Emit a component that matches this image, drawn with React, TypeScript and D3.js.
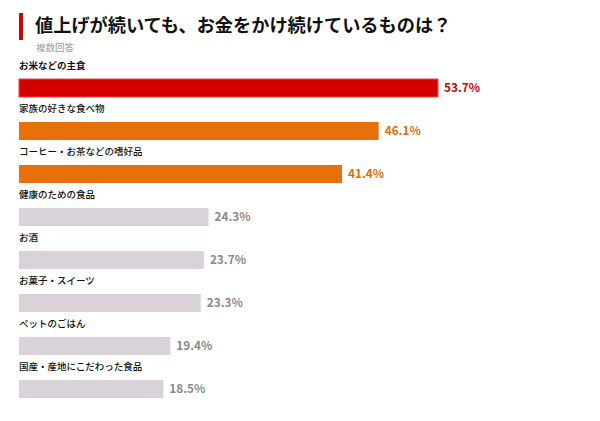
import React from "react";
import * as d3 from "d3";

const categories = [
  "お米などの主食",
  "家族の好きな食べ物",
  "コーヒー・お茶などの嗜好品",
  "健康のための食品",
  "お酒",
  "お菓子・スイーツ",
  "ペットのごはん",
  "国産・産地にこだわった食品",
];
const values = [53.7, 46.1, 41.4, 24.3, 23.7, 23.3, 19.4, 18.5];
const barColors = ["#d40000", "#e8700a", "#e8700a", "#d9d2d9", "#d9d2d9", "#d9d2d9", "#d9d2d9", "#d9d2d9"];
const labelColors = ["#c80000", "#e06b0a", "#e06b0a", "#8a8a8a", "#8a8a8a", "#8a8a8a", "#8a8a8a", "#8a8a8a"];

const title = "値上げが続いても、お金をかけ続けているものは？";
const subtitle = "複数回答";

const width = 600;
const height = 421;
const left = 19;

const App: React.FC = () => {
  const x = d3.scaleLinear().domain([0, 53.7]).range([0, 419]);
  const y = d3
    .scaleBand<string>()
    .domain(categories)
    .range([79, 79 + 43 * categories.length])
    .paddingInner(0)
    .paddingOuter(0);
  const barH = 18;
  const font = "'Noto Sans CJK JP', 'Noto Sans', sans-serif";

  return (
    <svg
      width={width}
      height={height}
      style={{ position: "absolute", left: 0, top: 0, background: "#fff" }}
      fontFamily={font}
    >
      {/* header */}
      <rect x={19} y={13} width={4} height={27} fill="#d40000" />
      <text x={35} y={32} fontSize={18.2} fontWeight={700} fill="#111">
        {title}
      </text>
      <text x={36} y={51} fontSize={9.5} fill="#999">
        {subtitle}
      </text>

      {categories.map((c, i) => {
        const y0 = y(c)!;
        const w = x(values[i]);
        return (
          <g key={c}>
            <text
              x={left}
              y={y0 - 10}
              fontSize={9.5}
              fontWeight={i === 0 ? 700 : 500}
              fill="#111"
            >
              {c}
            </text>
            <rect
              x={left}
              y={y0}
              width={w}
              height={barH}
              fill={barColors[i]}
              stroke={i === 0 ? "#e84848" : "none"}
              strokeWidth={i === 0 ? 1 : 0}
            />
            <text
              x={left + w + 6}
              y={y0 + barH / 2 + 4.2}
              fontSize={11.8}
              fontWeight={700}
              fill={labelColors[i]}
            >
              {values[i].toFixed(1)}%
            </text>
          </g>
        );
      })}
    </svg>
  );
};

export default App;
